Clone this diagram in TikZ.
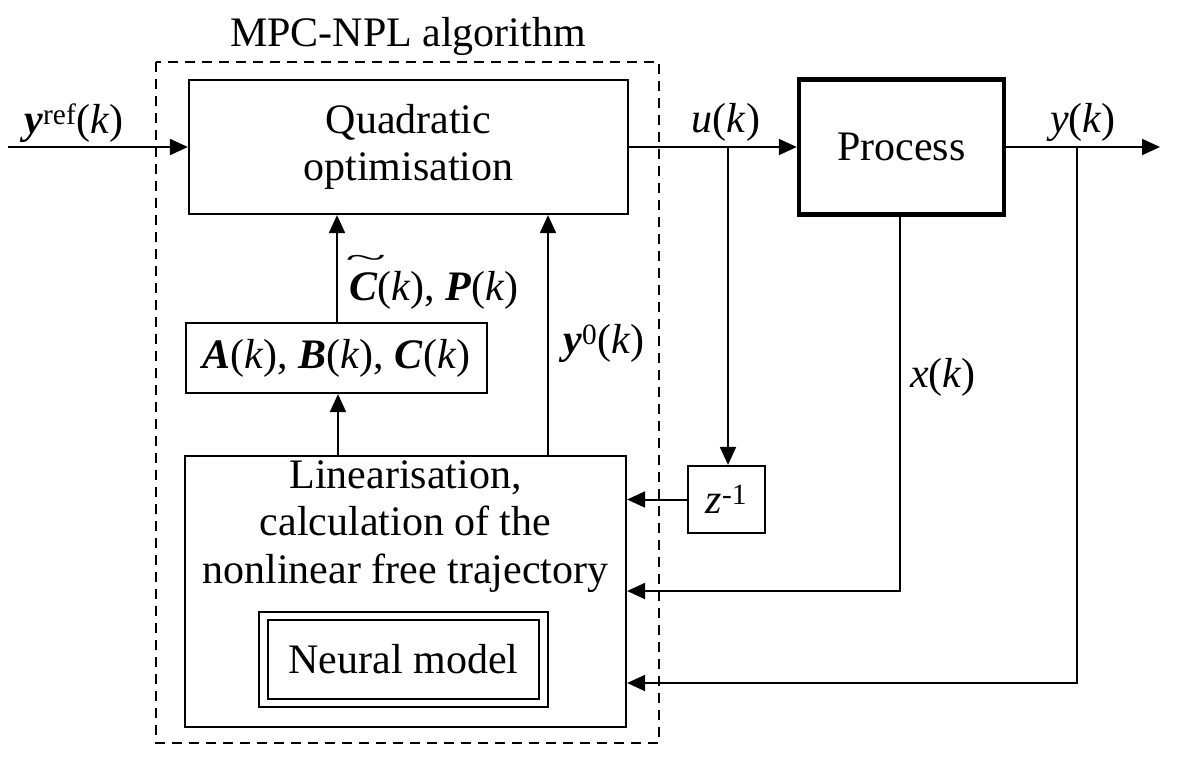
\documentclass[tikz,border=0pt]{standalone}
\usepackage{fontspec}
\setmainfont{Liberation Serif}
\usetikzlibrary{arrows.meta}
\newcommand\bi[1]{\textbf{\textit{#1}}}
\newcommand\tildeC{\leavevmode\hbox{\ooalign{\bi{C}\cr\hidewidth\kern0.12em\raisebox{0.78em}{\scalebox{1.8}[0.7]{\textasciitilde}}\hidewidth\cr}}}
\begin{document}
\begin{tikzpicture}[x=1pt,y=-1pt,
  every node/.style={font=\fontsize{42}{47}\selectfont},
  blockbox/.style={draw,line width=2.2pt,minimum width=#1,align=center,inner sep=0pt},
  lbl/.style={inner sep=0pt},
  conn/.style={line width=2pt},
  arr/.style={line width=2pt,-{Triangle[length=18pt,width=16pt]}}
]
\useasboundingbox (0,0) rectangle (1183,780);
% dashed frame
\draw[line width=2pt,dash pattern=on 10pt off 7pt] (156,62) rectangle (659,743);
\node[lbl] (title) at (408,36) {MPC-NPL algorithm};
% blocks
\node[blockbox=439pt,minimum height=134pt] (quad) at (408.5,147) {Quadratic\\optimisation};
\node[blockbox=301pt,minimum height=70pt] (abc) at (336.5,358) {\bi{A}(\textit{k}), \bi{B}(\textit{k}), \bi{C}(\textit{k})};
\node[blockbox=441pt,minimum height=271pt] (lin) at (405.5,591.5) {};
\node[lbl,align=center,anchor=north] (lintext) at (405.5,460) {Linearisation,\\[0.5pt]calculation of the\\[0.5pt]nonlinear free trajectory};
\node[draw,line width=2.2pt,double,double distance=6.2pt,minimum width=280pt,minimum height=87pt,inner sep=0pt] (neural) at (403.5,659.5) {Neural model};
\node[blockbox=77pt,minimum height=67pt] (z) at (726.5,499.5) {\textit{z}\textsuperscript{-1}};
\node[draw,line width=4.5pt,minimum width=205pt,minimum height=135pt,inner sep=0pt] (process) at (901.5,147) {Process};
% labels
\node[lbl] (yref) at (74,123) {\bi{y}\textsuperscript{ref}(\textit{k})};
\node[lbl] (cp) at (434,290) {\tildeC(\textit{k}), \bi{P}(\textit{k})};
\node[lbl] (y0) at (604,343) {\bi{y}\textsuperscript{0}(\textit{k})};
\node[lbl] (ulab) at (726,122) {\textit{u}(\textit{k})};
\node[lbl] (ylab) at (1083,122) {\textit{y}(\textit{k})};
\node[lbl] (xlab) at (943,377) {\textit{x}(\textit{k})};
% coordinates
\coordinate (in) at (8,147);
\coordinate (uj) at (728,147);
\coordinate (yj) at (1077,147);
\coordinate (out) at (1160,147);
\coordinate (xb) at (900,591);
\coordinate (yb) at (1077,683);
% connectors
\draw[arr] (in) -- (quad.west);
\draw[arr] (quad.east) -- (process.west);
\draw[arr] (uj) -- (uj |- z.north);
\draw[arr] (process.east) -- (out);
\draw[arr] (abc.north -| 337,0) -- (quad.south -| 337,0);
\draw[arr] (lin.north -| 338,0) -- (abc.south -| 338,0);
\draw[arr] (lin.north -| 548,0) -- (quad.south -| 548,0);
\draw[arr] (z.west) -- (z.west -| lin.east);
\draw[arr] (process.south -| xb) -- (xb) -- (xb -| lin.east);
\draw[arr] (yj) -- (yb) -- (yb -| lin.east);
\end{tikzpicture}
\end{document}
